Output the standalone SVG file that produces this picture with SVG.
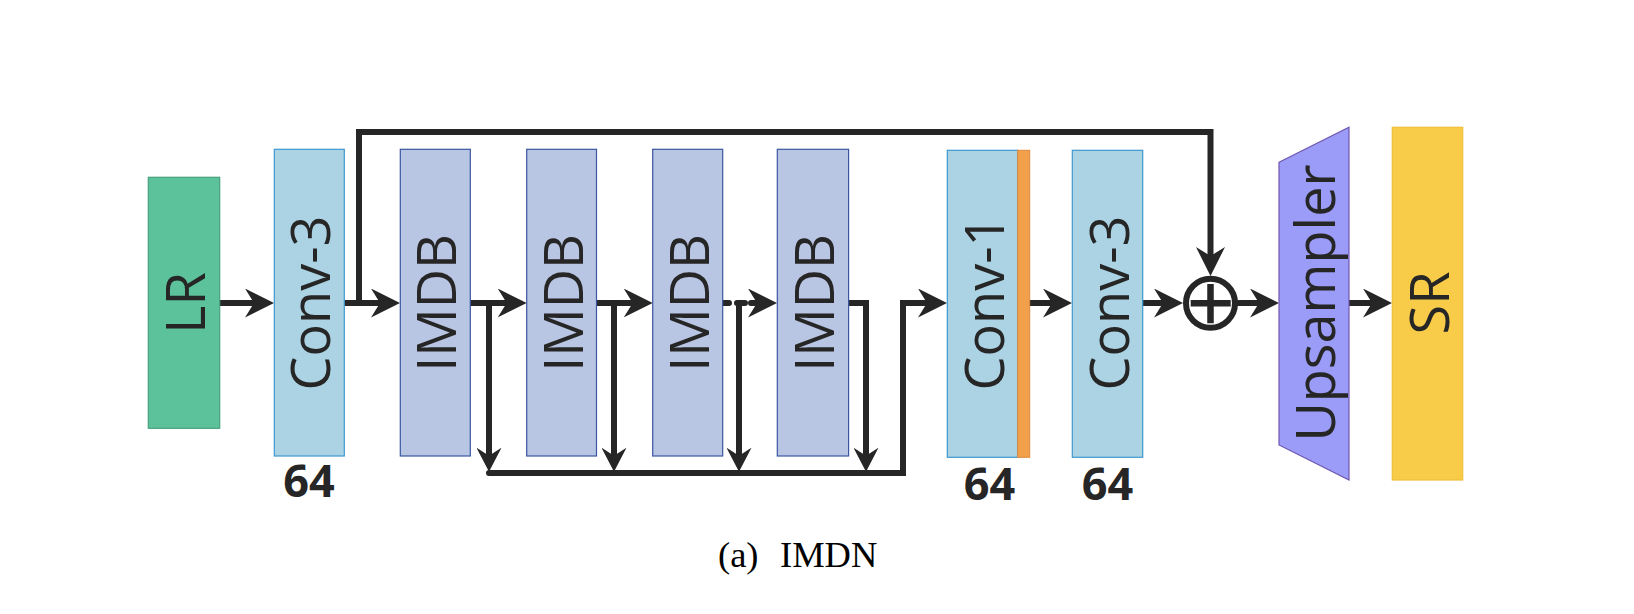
<svg xmlns="http://www.w3.org/2000/svg" width="1634" height="614" viewBox="0 0 1634 614">
<style>
.lbl{font-family:"Open Sans","Noto Sans","DejaVu Sans",sans-serif;font-size:54px;fill:#262626;text-anchor:middle}
.num{font-family:"Open Sans","Noto Sans","DejaVu Sans",sans-serif;font-size:45px;font-weight:bold;fill:#262626;text-anchor:middle}
.cap{font-family:"Liberation Serif","Times New Roman",serif;font-size:36.5px;fill:#000}
.conv{fill:#abd3e3;stroke:#3f97cf;stroke-width:1.2}
.imdb{fill:#b8c5e3;stroke:#3a56a0;stroke-width:1.2}
.wire{fill:none;stroke:#262626;stroke-width:6;stroke-linecap:round;stroke-linejoin:miter}
</style>
<defs>
<marker id="ah" markerUnits="userSpaceOnUse" viewBox="0 0 29 29" markerWidth="29" markerHeight="29" refX="9" refY="14.5" orient="auto"><path d="M0,0 L29,14.5 L0,29 L9,14.5 Z" fill="#262626"/></marker>
<marker id="ahs" markerUnits="userSpaceOnUse" viewBox="0 0 24 25" markerWidth="24" markerHeight="25" refX="8" refY="12.5" orient="auto"><path d="M0,0 L24,12.5 L0,25 L8,12.5 Z" fill="#262626"/></marker>
</defs>
<rect width="1634" height="614" fill="#fff"/>

<g id="connectors">
<path class="wire" d="M220,303 H254" marker-end="url(#ah)"/>
<path class="wire" d="M345,303 H380" marker-end="url(#ah)"/>
<path class="wire" d="M359,303 V132 H1210.5 V256" marker-end="url(#ah)"/>
<path class="wire" d="M470,303 H506.7" marker-end="url(#ah)"/>
<path class="wire" d="M489,303 V455.7" marker-end="url(#ahs)"/>
<path class="wire" d="M596.5,303 H632.7" marker-end="url(#ah)"/>
<path class="wire" d="M614,303 V455.7" marker-end="url(#ahs)"/>
<path class="wire" d="M722,303 H729 M737,303 H745 M751,303 H757" marker-end="url(#ah)"/>
<path class="wire" d="M739,303 V455.7" marker-end="url(#ahs)"/>
<path class="wire" d="M849,303 H866 V455.7" marker-end="url(#ahs)"/>
<path class="wire" d="M489,473 H903 V303 H927" marker-end="url(#ah)"/>
<path class="wire" d="M1030,303 H1052" marker-end="url(#ah)"/>
<path class="wire" d="M1143,303 H1163" marker-end="url(#ah)"/>
<path class="wire" d="M1238,303 H1259" marker-end="url(#ah)"/>
<path class="wire" d="M1349,303 H1372" marker-end="url(#ah)"/>
</g>

<g id="lr">
<rect x="148.3" y="177.3" width="71.4" height="251" fill="#5bc29c" stroke="#48a07c" stroke-width="1.2"/>
<text class="lbl" transform="translate(184,303) rotate(-90)" x="0" y="21">LR</text>
</g>

<g id="conv3a">
<rect class="conv" x="274.3" y="149.3" width="70" height="306.7"/>
<text class="lbl" transform="translate(309.3,303) rotate(-90)" x="0" y="21">Conv-3</text>
<text class="num" x="309" y="497">64</text>
</g>

<g id="imdb1">
<rect class="imdb" x="400.3" y="149.3" width="70" height="306.7"/>
<text class="lbl" transform="translate(435.3,303) rotate(-90)" x="0" y="21">IMDB</text>
</g>
<g id="imdb2">
<rect class="imdb" x="526.7" y="149.3" width="69.8" height="306.7"/>
<text class="lbl" transform="translate(561.6,303) rotate(-90)" x="0" y="21">IMDB</text>
</g>
<g id="imdb3">
<rect class="imdb" x="652.7" y="149.3" width="70" height="306.7"/>
<text class="lbl" transform="translate(687.7,303) rotate(-90)" x="0" y="21">IMDB</text>
</g>
<g id="imdb4">
<rect class="imdb" x="777.3" y="149.3" width="71.3" height="306.7"/>
<text class="lbl" transform="translate(813,303) rotate(-90)" x="0" y="21">IMDB</text>
</g>

<g id="conv1">
<rect class="conv" x="947.3" y="150.3" width="70.4" height="307"/>
<rect x="1017.7" y="150.3" width="12" height="307" fill="#f2a04b" stroke="#e0883a" stroke-width="1"/>
<text class="lbl" transform="translate(982.5,303) rotate(-90)" x="0" y="21">Conv-1</text>
<text class="num" x="989.5" y="500">64</text>
</g>

<g id="conv3b">
<rect class="conv" x="1072.3" y="150.3" width="70.4" height="307"/>
<text class="lbl" transform="translate(1107.5,303) rotate(-90)" x="0" y="21">Conv-3</text>
<text class="num" x="1107.5" y="500">64</text>
</g>

<g id="add">
<circle cx="1210.5" cy="303.3" r="24.5" fill="#fff" stroke="#262626" stroke-width="6"/>
<path d="M1190.7,303.3 H1230.7 M1210.5,284 V323.3" stroke="#262626" stroke-width="6.5" fill="none"/>
</g>

<g id="upsampler">
<polygon points="1279,162.3 1349,127.3 1349,480 1279,445" fill="#9a9cf7" stroke="#7055b0" stroke-width="1.2"/>
<text class="lbl" transform="translate(1314,303) rotate(-90)" x="0" y="21">Upsampler</text>
</g>

<g id="sr">
<rect x="1392.3" y="127.3" width="70.4" height="352.7" fill="#f8cc48" stroke="#f0be3a" stroke-width="1.2"/>
<text class="lbl" transform="translate(1427.5,303) rotate(-90)" x="0" y="21">SR</text>
</g>

<g id="caption">
<text class="cap" y="567"><tspan x="718">(a)</tspan><tspan x="780">IMDN</tspan></text>
</g>
</svg>
